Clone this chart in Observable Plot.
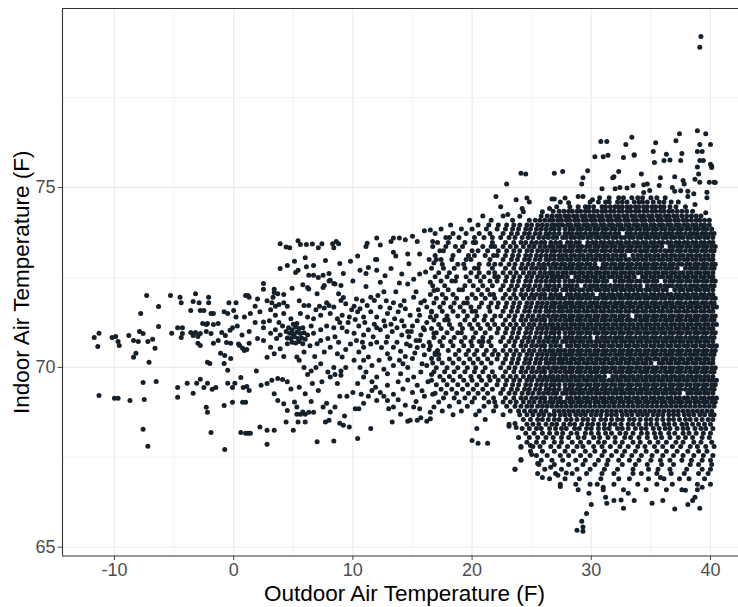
<!DOCTYPE html>
<html>
<head>
<meta charset="utf-8">
<script src="https://cdn.jsdelivr.net/npm/d3@7"></script>
<script src="https://cdn.jsdelivr.net/npm/@observablehq/plot@0.6"></script>
<style>
  body { margin: 0; background: white; }
</style>
</head>
<body>
<div id="chart"></div>
<script>
// ticks / grid
const xMajor = [-10, 0, 10, 20, 30, 40];
const xMinor = [-5, 5, 15, 25, 35];
const yMajor = [65, 70, 75];
const yMinor = [67.5, 72.5, 77.5];
const xDomain = [-14.36, 42.35];
const yDomain = [64.755, 79.98];

/* lecturas frias: [exterior, interior] */
const coldReadings = [
  [-11.7,70.83],[-11.3,70.95],[-11.4,70.58],[-11.3,69.22],
  [-10.2,70.83],[-9.9,70.86],[-9.7,70.72],[-9.6,70.61],[-10.0,69.14],[-9.7,69.14],
  [-8.8,70.89],[-8.4,70.75],[-8.2,70.39],[-8.4,70.28],[-7.9,71.0],[-7.6,70.94],[-8.0,70.72],[-7.2,70.72],[-6.8,70.78],[-6.6,70.53],[-7.1,70.14],[-7.8,71.5],
  [-8.7,69.08],[-7.6,69.58],[-7.5,69.11],[-6.5,69.61],[-7.6,68.28],[-7.2,67.81],[-6.3,71.69],[-6.3,71.14],
  [-7.3,72.0],[-5.3,72.0],[-4.5,71.95],[-3.2,72.05],[-2.1,71.95],
  [-4.4,71.8],[-3.4,71.83],[-2.9,71.8],[-2.1,71.8],[-0.4,71.8],[-3.6,71.58],[-2.8,71.58],[-2.5,71.58],[-1.9,71.5],[-1.7,71.5],[-0.8,71.55],[-0.5,71.5],
  [-5.2,70.95],[-4.7,71.1],[-4.3,71.1],[-4.4,70.83],[-4.3,70.94],[-3.6,70.97],[-3.2,70.97],[-3.4,70.89],[-3.0,70.86],[-2.8,70.94],[-2.3,71.0],[-2.6,71.22],[-2.3,71.19],[-2.2,71.22],[-3.0,70.67],[-2.8,70.61],[-1.7,71.19],[-1.3,71.22],[-1.9,70.94],[-1.3,70.75],[-1.7,70.67],[-1.1,70.39],[-0.75,70.33],[-1.0,70.97],[-0.7,70.89],[-0.3,71.03],[-0.1,71.1],[-0.6,70.69],[-0.25,70.67],[-2.2,70.14],[-2.0,70.11],[-0.8,70.11],[-0.5,69.92],[-0.25,70.25],
  [-3.9,69.56],[-3.4,69.28],[-4.7,69.44],[-4.7,69.17],[-3.1,69.56],[-2.8,69.67],[-2.5,69.44],[-2.2,69.56],[-1.8,69.39],[-1.5,69.44],[-2.3,68.89],[-2.2,68.75],[-1.9,68.19],[-0.8,68.94],[-0.75,67.72],[-0.5,69.56],[-0.1,69.44],[-0.1,69.03]
];

/* lecturas templadas (0 a 17 F) */
const mildReadings = [
  [3.9,73.44],[4.4,73.35],[4.7,73.33],[5.4,73.52],[5.6,73.42],[6.1,73.42],[6.6,73.43],[7.1,73.33],[7.4,73.44],[8.3,73.44],[8.6,73.5],[8.4,73.33],[8.8,73.44],[11.1,73.36],[11.2,73.45],[12.0,73.6],[12.3,73.4],[13.2,73.5],[13.4,73.6],[13.9,73.6],[14.4,73.55],[15.0,73.65],[15.4,73.5],[16.0,73.8],[16.5,73.82],[16.7,73.5],
  [13.4,73.2],[13.6,73.1],[14.6,73.15],[15.6,73.15],[12.0,73.0],[7.7,72.97],[16.4,73.0],[16.8,72.9],
  [3.9,72.75],[4.5,72.83],[5.2,72.64],[5.4,72.7],[6.1,72.8],[6.7,72.83],[6.3,72.56],[6.7,72.56],[7.1,72.5],[7.5,72.56],[8.0,72.61],[8.1,72.42],[8.4,72.33],[8.9,72.89],[9.2,72.61],[9.0,72.28],[9.2,71.94],[7.5,72.22],[6.2,72.22],[11.1,72.61],[11.1,72.25],[11.3,72.78],[12.0,72.7],[11.9,73.0],[14.1,72.6],[14.7,72.88],[15.6,72.6],[8.0,72.4],
  [1.2,72.0],[2.0,71.9],[2.5,72.33],[2.5,72.17],[3.4,72.17],[3.4,72.08],[3.7,72.05],[4.2,72.03],[6.3,72.18],[7.6,72.28],[8.5,72.32],[12.3,72.37],[12.6,72.1],[13.6,72.1],[14.6,72.32],[15.3,72.1],[16.5,72.37],[16.8,72.14],
  [0.2,71.8],[1.0,72.0],[1.3,71.95],[2.8,71.85],[3.2,71.8],[3.5,71.7],[3.8,71.75],[4.2,71.8],[4.5,71.7],[5.5,71.85],[5.9,71.72],[6.3,71.72],[7.2,71.7],[7.6,71.65],[8.0,71.72],[8.4,71.68],[9.0,71.86],[9.4,71.77],[10.1,71.7],[10.6,71.63],[11.2,71.72],[11.8,71.86],[12.3,71.68],[12.9,71.5],[13.4,71.8],[14.0,71.72],[14.4,71.63],[15.1,71.95],[15.7,71.8],[16.2,71.68],[16.6,71.54],
  [0.0,71.58],[0.2,71.4],[0.9,71.4],[1.4,71.5],[2.5,71.26],[3.1,71.6],[3.5,71.45],[4.2,71.5],[4.8,71.35],[5.6,71.5],[6.2,71.4],[6.7,71.35],[7.3,71.45],[8.1,71.5],[8.7,71.35],[9.1,71.45],[9.7,71.4],[10.2,71.33],[10.9,71.4],[11.5,71.55],[12.0,71.4],[12.6,71.3],[13.2,71.2],[13.7,71.1],[14.1,71.3],[14.6,71.0],[15.4,71.3],[15.9,71.1],[16.5,71.4],
  [0.3,71.15],[0.7,70.9],[1.3,71.0],[2.5,71.1],[3.1,70.95],[3.5,71.05],[3.9,70.9],
  [4.6,71.1],[4.9,71.05],[5.2,71.12],[5.5,71.08],[5.8,71.1],[4.7,70.95],[5.0,70.92],[5.3,70.98],[5.6,70.94],[5.9,70.96],[6.2,70.9],[4.5,70.82],[4.8,70.8],[5.1,70.85],[5.4,70.8],[5.7,70.82],[6.0,70.78],[4.9,70.7],[5.2,70.68],[5.5,70.72],[5.8,70.66],[5.3,71.22],[5.0,71.2],[4.4,71.0],
  [6.7,70.95],[7.3,71.05],[7.8,71.15],[8.5,70.85],[9.1,71.1],[9.5,71.0],[10.1,70.95],[10.5,71.15],[10.9,70.9],[11.3,71.05],[11.7,70.85],[12.0,71.1],[12.9,70.85],[13.3,71.0],[13.7,70.7],[14.1,70.9],[14.5,70.65],[14.9,71.0],[15.3,70.75],[15.7,70.9],[16.0,71.05],[16.4,70.7],[16.8,70.95],
  [0.4,70.65],[0.9,70.47],[0.5,70.61],[0.75,70.53],[1.1,70.5],[1.3,70.67],[2.5,70.75],[3.1,70.56],[3.4,70.38],[2.8,70.28],[3.9,70.52],[4.5,70.66],[5.3,70.29],[5.9,70.43],[7.0,70.66],[7.6,70.43],[8.1,70.56],[8.7,70.38],[9.1,70.29],[10.5,70.43],[10.9,70.56],[11.3,70.29],[12.0,70.7],[12.9,70.38],[13.4,70.56],[14.0,70.45],[14.4,70.3],[14.8,70.6],[15.2,70.4],[15.6,70.75],[16.0,70.35],[16.4,70.5],
  [5.5,70.2],[5.9,70.0],[6.5,69.9],[6.9,70.0],[7.3,70.1],[7.9,69.87],[8.4,70.0],[8.5,69.8],[9.0,69.9],[10.1,70.2],[10.6,70.0],[11.1,69.87],[12.0,69.73],[12.9,69.82],[14.0,69.82],[14.6,70.0],[15.1,69.73],[15.7,69.87],[16.2,70.05],[16.6,69.8],
  [0.6,69.72],[0.8,69.44],[1.1,69.47],[1.3,69.36],[0.1,69.56],[2.8,69.55],[3.2,69.64],[3.7,69.69],[4.1,69.66],[4.5,69.6],[3.4,69.27],[5.5,69.45],[6.0,69.27],[6.6,69.55],[7.1,69.36],[8.1,69.73],[8.7,69.55],[9.0,69.78],[10.4,69.55],[10.9,69.73],[11.6,69.6],[11.9,69.45],[12.3,69.3],[12.9,69.5],[13.4,69.25],[13.8,69.6],[14.2,69.4],[14.6,69.65],[15.0,69.3],[15.4,69.5],[15.8,69.35],[16.3,69.6],[16.7,69.25],
  [0.75,69.03],[1.0,69.03],[3.7,69.08],[4.2,68.99],[4.5,68.8],[5.1,69.04],[5.3,68.9],[5.8,68.76],[5.3,68.7],[5.6,68.7],[6.0,68.7],[6.3,68.75],[6.7,68.75],[7.8,69.0],[8.1,68.76],[8.5,68.9],[10.2,68.85],[10.5,68.85],[10.9,69.0],[11.6,69.36],[12.0,69.08],[12.9,69.08],[13.4,68.9],[14.0,68.7],[14.6,68.5],[15.1,68.9],[15.7,68.6],[16.2,68.5],[16.8,68.9],
  [0.6,68.19],[1.0,68.17],[1.2,68.17],[1.4,68.17],[2.2,68.34],[2.8,68.25],[3.4,68.25],[4.4,68.48],[5.0,68.25],[5.4,68.48],[6.0,68.48],[2.8,67.86],[7.0,67.93],[8.4,67.95],[7.7,68.48],[8.0,68.53],[9.2,68.39],[9.7,68.34],[10.4,68.02],[11.5,68.3],[13.3,68.48],[14.8,68.53],[15.4,68.53],[16.5,68.57],
  [10.3,71.9],[10.8,71.85],[11.5,71.95],[12.1,72.0],[12.8,71.85],[13.1,71.65],[13.8,71.55],[14.3,71.85],[14.8,71.45],[15.5,71.6],[16.0,71.85],[10.4,71.55],[11.0,71.25],[11.8,71.2],[12.3,71.05],[12.7,71.15],[13.5,71.35],[14.3,71.15],[15.0,71.15],[15.6,71.45],[16.2,71.25],[10.3,70.75],[10.8,70.7],[11.5,70.65],[12.4,70.55],[12.8,70.7],[13.1,70.25],[13.9,70.2],[14.7,70.85],[15.4,70.55],[15.9,70.6],[16.6,70.25],[10.9,70.2],[11.6,70.05],[12.2,70.2],[12.6,69.95],[13.4,70.05],[14.2,70.1],[15.0,70.25],[15.8,70.1],[16.9,70.4],[10.0,69.3],[10.7,69.25],[11.3,69.2],[12.6,69.2],[13.0,68.85],[13.8,69.1],[14.4,68.95],[15.3,69.05],[15.6,68.85],[16.0,69.2],[16.5,68.75],[9.5,69.2],[9.4,70.0],[9.8,70.65],[9.6,71.25],[9.9,71.6],
  [1.8,71.7],[2.2,71.55],[3.0,71.3],[3.8,71.25],[4.1,71.15],[6.5,71.15],[6.9,71.6],[7.8,71.8],[8.4,71.1],[8.9,71.25],[7.9,70.8],[7.3,70.75],[6.4,70.6],[6.8,70.3],[4.2,70.3],[3.6,70.8],[2.0,70.8],[1.8,71.25],[8.8,70.7],[9.4,70.5],[7.4,69.6],[6.2,69.8],[4.8,69.4],[2.3,69.5],[1.9,69.9],[8.9,69.2],[7.5,68.9],[6.5,69.05],[9.3,68.65],[8.9,68.45],[3.3,71.95],[4.9,72.2],[5.8,72.3],[7.0,72.05],[8.8,72.05],[10.0,72.4],[10.6,72.7],[12.7,72.55],[13.2,72.75],[13.9,72.35],[15.1,72.45],[16.1,72.65],[9.8,72.95],[10.4,73.1],[6.0,73.05],[5.1,72.95]
];

/* filas por temperatura interior: [interior, [exteriores...]] */
const warmRows = [
  [74.72, [31.5,32.3,32.7,33.4,33.9,34.3,35.0,35.5,36.2]],
  [74.6, [29.9,30.6,31.2,31.5,32.2,32.6,33.0,33.6,34.0,34.3,34.7,35.2,35.7,36.1,36.7,37.3]],
  [74.47, [28.2,28.9,29.5,29.8,30.2,30.9,31.2,31.6,32.0,32.3,32.6,33.0,33.3,33.7,34.0,34.4,34.7,35.1,35.4,35.8,36.1,36.6,37.1,37.9]],
  [74.34, [26.8,27.3,27.7,28.1,28.4,28.8,29.1,29.5,29.8,30.2,30.5,30.9,31.2,31.6,31.9,32.3,32.6,33.0,33.3,33.7,34.0,34.4,34.7,35.1,35.4,35.8,36.1,36.5,36.8,37.2,37.6,38.0,38.5]],
  [74.21, [20.9,22.6,25.8,26.3,26.7,27.1,27.4,27.8,28.1,28.5,28.8,29.2,29.5,29.9,30.2,30.6,30.9,31.3,31.6,32.0,32.3,32.7,33.0,33.4,33.7,34.1,34.4,34.8,35.1,35.5,35.8,36.2,36.5,36.9,37.2,37.6,38.0,38.4,38.8,39.2]],
  [74.09, [19.8,21.6,23.4,24.8,25.3,25.7,26.1,26.5,26.8,27.2,27.5,27.9,28.2,28.6,28.9,29.3,29.6,30.0,30.3,30.7,31.0,31.4,31.7,32.1,32.4,32.8,33.1,33.5,33.8,34.2,34.5,34.9,35.2,35.6,35.9,36.3,36.6,37.0,37.3,37.7,38.0,38.4,38.8,39.1,39.5,39.9]],
  [73.96, [18.2,20.5,21.4,22.2,22.9,23.5,24.0,24.6,25.0,25.5,25.9,26.3,26.7,27.0,27.3,27.6,28.0,28.3,28.7,29.0,29.4,29.7,30.1,30.4,30.8,31.1,31.5,31.8,32.2,32.5,32.9,33.2,33.6,33.9,34.3,34.6,35.0,35.3,35.7,36.0,36.4,36.7,37.1,37.4,37.8,38.1,38.5,38.8,39.2,39.5,39.9]],
  [73.85, [17.4,19.1,20.0,21.2,22.1,22.8,23.4,23.9,24.5,24.9,25.4,25.8,26.2,26.6,26.9,27.3,27.8,28.2,28.5,28.9,29.2,29.6,29.9,30.3,30.6,31.0,31.3,31.7,32.0,32.4,32.7,33.1,33.4,33.8,34.1,34.5,34.8,35.2,35.5,35.9,36.2,36.6,36.9,37.3,37.6,38.0,38.3,38.7,39.0,39.4,39.7,40.1]],
  [73.72, [16.9,18.4,19.5,20.6,21.5,22.6,23.3,23.8,24.4,24.8,25.3,25.7,26.2,26.5,26.9,27.3,27.8,28.1,28.4,28.8,29.1,29.5,29.9,30.2,30.5,30.9,31.2,31.6,32.0,32.3,33.0,33.3,33.7,34.1,34.4,34.7,35.1,35.4,35.8,36.2,36.5,36.8,37.2,37.5,37.9,38.3,38.6,38.9,39.3,39.6,40.0,40.3]],
  [73.61, [17.8,18.1,18.9,20.2,21.0,21.7,22.4,23.1,23.6,24.2,24.7,25.1,25.6,26.0,26.4,26.8,27.1,27.6,27.9,28.3,28.6,29.0,29.3,29.7,30.0,30.4,30.7,31.1,31.4,31.8,32.1,32.5,32.8,33.2,33.5,33.9,34.2,34.6,34.9,35.3,35.6,36.0,36.3,36.7,37.0,37.4,37.7,38.1,38.4,38.8,39.1,39.5,39.8,40.2]],
  [73.47, [17.1,18.0,19.4,20.1,20.3,21.7,22.8,23.5,24.1,24.5,25.0,25.4,25.8,26.1,26.6,27.0,27.4,28.0,28.3,28.7,29.0,29.7,30.1,30.4,30.8,31.1,31.5,31.8,32.2,32.5,32.9,33.2,33.6,33.9,34.3,34.6,35.0,35.3,35.7,36.0,36.4,36.7,37.1,37.4,37.8,38.1,38.5,38.8,39.2,39.5,39.9,40.2]],
  [73.36, [16.7,17.8,18.6,19.2,20.9,21.6,21.9,22.6,23.2,23.7,24.3,24.8,25.2,25.7,26.1,26.5,26.8,27.2,27.5,27.8,28.2,28.5,28.9,29.2,29.6,29.9,30.3,30.6,31.0,31.3,31.7,32.0,32.4,32.7,33.1,33.4,33.8,34.1,34.5,34.8,35.2,35.5,35.9,36.6,36.9,37.3,37.6,38.0,38.3,38.7,39.0,39.4,39.7,40.1,40.4]],
  [73.24, [17.3,17.6,18.9,20.0,20.5,21.3,22.2,22.9,23.5,24.0,24.6,25.0,25.5,25.9,26.3,26.7,27.0,27.4,27.8,28.1,28.4,28.8,29.1,29.5,29.9,30.2,30.5,30.9,31.2,31.6,32.0,32.3,32.6,33.0,33.3,33.7,34.1,34.4,34.7,35.1,35.4,35.8,36.2,36.5,36.8,37.2,37.5,37.9,38.3,38.6,38.9,39.3,39.6,40.0,40.3]],
  [73.11, [16.9,18.4,19.7,20.2,21.1,21.8,22.1,22.8,23.4,23.9,24.5,24.9,25.4,25.8,26.2,26.6,26.9,27.3,27.6,27.9,28.3,28.6,29.0,29.3,29.7,30.0,30.4,30.7,31.1,31.4,31.8,32.1,32.5,32.8,33.5,33.9,34.2,34.6,34.9,35.3,35.6,36.0,36.3,36.7,37.0,37.4,37.7,38.1,38.4,38.8,39.1,39.5,39.8,40.2]],
  [73.0, [17.0,17.4,18.3,19.5,19.9,21.5,22.6,23.3,23.8,24.4,24.8,25.3,25.7,26.2,26.5,26.9,27.3,27.6,28.0,28.3,28.7,29.0,29.4,29.7,30.1,30.4,30.8,31.1,31.5,31.8,32.2,32.5,32.9,33.2,33.6,33.9,34.3,34.6,35.0,35.3,35.7,36.0,36.4,36.7,37.1,37.4,37.8,38.1,38.5,38.8,39.2,39.5,39.9,40.2]],
  [72.87, [17.5,18.8,19.3,20.6,21.4,21.9,22.4,23.1,23.6,24.2,24.7,25.1,25.6,26.0,26.4,26.8,27.1,27.5,27.8,28.2,28.5,28.9,29.2,29.6,29.9,30.3,31.0,31.3,31.7,32.0,32.4,32.7,33.1,33.4,33.8,34.1,34.5,34.8,35.2,35.5,35.9,36.2,36.6,36.9,37.3,37.6,38.0,38.3,38.7,39.0,39.4,39.7,40.1,40.4]],
  [72.76, [16.6,17.6,18.5,19.4,20.2,20.5,21.7,22.8,23.5,24.1,24.5,25.0,25.4,25.8,26.1,26.6,27.0,27.4,27.8,28.1,28.4,28.8,29.1,29.5,29.9,30.2,30.5,30.9,31.2,31.6,32.0,32.3,32.6,33.0,33.3,33.7,34.1,34.4,34.7,35.1,35.4,35.8,36.2,36.5,36.8,37.2,37.9,38.3,38.6,38.9,39.3,39.6,40.0,40.3]],
  [72.63, [17.2,18.1,19.9,20.6,21.4,21.9,22.6,23.2,23.7,24.3,24.8,25.2,25.7,26.1,26.5,26.8,27.2,27.6,27.9,28.3,28.6,29.0,29.3,29.7,30.0,30.4,30.7,31.1,31.4,31.8,32.1,32.5,32.8,33.2,33.5,33.9,34.2,34.6,34.9,35.3,35.6,36.0,36.3,36.7,37.0,37.4,37.7,38.1,38.4,38.8,39.1,39.5,39.8,40.2]],
  [72.52, [16.9,17.9,18.7,19.5,20.4,21.0,21.9,22.2,22.9,23.5,24.0,24.6,25.0,25.5,25.9,26.3,26.7,27.0,27.3,27.6,28.0,28.7,29.0,29.4,29.7,30.1,30.4,30.8,31.1,31.5,31.8,32.2,32.5,32.9,33.2,33.6,34.3,34.6,35.0,35.3,35.7,36.0,36.4,36.7,37.1,37.4,37.8,38.1,38.5,38.8,39.2,39.5,39.9,40.2]],
  [72.4, [17.4,18.3,18.6,19.8,20.7,21.5,22.1,22.8,23.4,23.9,24.5,24.9,25.4,25.8,26.2,26.6,26.9,27.3,27.8,28.2,28.5,28.9,29.2,29.6,29.9,30.3,30.6,31.0,31.3,32.0,32.4,32.7,33.1,33.4,33.8,34.1,34.5,34.8,35.2,35.5,36.2,36.6,36.9,37.3,37.6,38.0,38.3,38.7,39.0,39.4,39.7,40.1,40.4]],
  [72.27, [16.7,17.7,19.4,20.1,20.9,21.7,22.6,23.3,23.8,24.4,24.8,25.3,25.7,26.2,26.5,26.9,27.3,27.8,28.1,28.4,28.8,29.5,29.9,30.2,30.5,30.9,31.2,31.6,32.0,32.3,32.6,33.0,33.3,33.7,34.1,34.7,35.1,35.4,35.8,36.2,36.5,36.8,37.2,37.5,37.9,38.3,38.6,38.9,39.3,39.6,40.0,40.3]],
  [72.16, [17.1,18.0,18.9,19.2,20.5,21.3,22.4,23.1,23.6,24.2,24.7,25.1,25.6,26.0,26.4,26.8,27.1,27.6,27.9,28.3,28.6,29.0,29.3,29.7,30.0,30.4,30.7,31.1,31.4,31.8,32.1,32.5,32.8,33.2,33.5,33.9,34.2,34.6,34.9,35.3,35.6,36.0,36.3,37.0,37.4,37.7,38.1,38.4,38.8,39.1,39.5,39.8,40.2]],
  [72.03, [16.5,17.5,18.4,20.0,20.8,21.5,21.8,22.8,23.5,24.1,24.5,25.0,25.4,25.8,26.1,26.6,27.0,27.4,28.0,28.3,28.7,29.0,29.4,29.7,30.1,30.8,31.1,31.5,31.8,32.2,32.5,32.9,33.2,33.6,33.9,34.3,34.6,35.0,35.3,35.7,36.0,36.4,36.7,37.1,37.4,37.8,38.1,38.5,38.8,39.2,39.5,39.9,40.2]],
  [71.92, [17.0,17.8,18.7,19.6,20.3,21.1,21.9,22.6,23.2,23.7,24.3,24.8,25.2,25.7,26.1,26.5,26.8,27.2,27.5,27.8,28.2,28.5,28.9,29.2,29.6,29.9,30.3,30.6,31.0,31.3,31.7,32.0,32.4,32.7,33.1,33.4,33.8,34.1,34.5,34.8,35.2,35.5,35.9,36.2,36.6,36.9,37.3,37.6,38.0,38.3,38.7,39.0,39.4,39.7,40.1,40.4]],
  [71.79, [16.8,17.6,18.5,19.3,19.6,20.8,21.6,22.2,22.9,23.5,24.0,24.6,25.0,25.5,25.9,26.3,26.7,27.0,27.4,27.8,28.1,28.4,28.8,29.1,29.5,29.9,30.2,30.5,30.9,31.2,31.6,32.0,32.3,32.6,33.0,33.3,33.7,34.1,34.4,34.7,35.1,35.4,35.8,36.2,36.5,36.8,37.2,37.5,37.9,38.3,38.6,38.9,39.3,39.6,40.0,40.3]],
  [71.68, [17.3,18.2,19.0,19.9,20.6,21.4,22.1,22.8,23.4,23.9,24.5,24.9,25.4,25.8,26.2,26.6,26.9,27.3,27.6,27.9,28.3,28.6,29.0,29.3,29.7,30.0,30.4,30.7,31.1,31.4,31.8,32.1,32.5,32.8,33.2,33.5,33.9,34.2,34.6,34.9,35.3,35.6,36.0,36.3,36.7,37.0,37.4,37.7,38.1,38.4,38.8,39.1,39.5,39.8,40.2,40.5]],
  [71.56, [16.6,17.5,18.4,19.3,20.0,20.3,21.5,22.6,23.3,23.8,24.4,24.8,25.3,25.7,26.2,26.5,26.9,27.3,27.6,28.0,28.3,28.7,29.0,29.4,29.7,30.1,30.4,30.8,31.1,31.5,31.8,32.2,32.5,32.9,33.2,33.6,33.9,34.3,34.6,35.0,35.3,35.7,36.0,36.4,36.7,37.1,37.4,37.8,38.1,38.5,38.8,39.2,39.5,39.9,40.2]],
  [71.43, [17.0,17.9,18.8,19.6,20.4,21.1,21.9,22.4,23.1,23.6,24.2,24.7,25.1,25.6,26.0,26.4,26.8,27.1,27.5,27.8,28.2,28.5,28.9,29.2,29.6,29.9,30.3,30.6,31.0,31.3,31.7,32.0,32.4,32.7,33.1,33.8,34.1,34.5,34.8,35.2,35.5,35.9,36.2,36.6,36.9,37.3,37.6,38.0,38.3,38.7,39.0,39.4,39.7,40.1,40.4]],
  [71.32, [16.8,17.7,18.0,19.4,20.2,21.0,21.7,22.8,23.5,24.1,24.5,25.0,25.4,25.8,26.1,26.6,27.0,27.4,27.8,28.1,28.4,28.8,29.1,29.5,29.9,30.2,30.5,30.9,31.2,31.6,32.0,32.3,32.6,33.0,33.3,33.7,34.1,34.4,34.7,35.1,35.4,35.8,36.2,36.5,36.8,37.2,37.5,37.9,38.3,38.6,38.9,39.3,39.6,40.0,40.3]],
  [71.19, [17.2,18.1,19.0,19.8,20.5,21.3,21.9,22.6,23.2,23.7,24.3,24.8,25.2,25.7,26.1,26.5,26.8,27.2,27.6,27.9,28.3,28.6,29.0,29.3,29.7,30.0,30.4,30.7,31.1,31.4,31.8,32.1,32.5,32.8,33.2,33.5,33.9,34.2,34.6,34.9,35.3,35.6,36.0,36.3,36.7,37.0,37.4,37.7,38.1,38.4,38.8,39.1,39.5,39.8,40.2,40.5]],
  [71.08, [16.6,17.4,18.3,19.2,20.0,20.7,21.5,22.2,22.9,23.5,24.0,24.6,25.0,25.5,25.9,26.3,26.7,27.0,27.3,27.6,28.0,28.3,28.7,29.0,29.4,29.7,30.1,30.4,30.8,31.1,31.5,31.8,32.2,32.5,32.9,33.2,33.6,33.9,34.3,34.6,35.0,35.3,35.7,36.0,36.4,36.7,37.1,37.4,37.8,38.1,38.5,38.8,39.2,39.5,39.9,40.2]],
  [70.96, [17.0,17.9,18.8,19.1,20.3,21.1,22.1,22.8,23.4,23.9,24.5,24.9,25.4,25.8,26.2,26.6,26.9,27.3,27.8,28.2,28.5,28.9,29.2,29.6,29.9,30.3,30.6,31.0,31.3,31.7,32.0,32.4,32.7,33.1,33.4,33.8,34.1,34.5,34.8,35.2,35.5,35.9,36.2,36.6,36.9,37.3,37.6,38.0,38.3,38.7,39.0,39.4,39.7,40.1,40.4]],
  [70.83, [16.8,17.6,18.5,19.4,20.1,20.9,21.6,22.6,23.3,23.8,24.4,24.8,25.3,25.7,26.2,26.5,26.9,27.3,27.8,28.1,28.4,28.8,29.1,29.5,29.9,30.5,30.9,31.2,31.6,32.0,32.3,32.6,33.0,33.3,33.7,34.1,34.4,34.7,35.1,35.4,35.8,36.2,36.5,36.8,37.2,37.5,37.9,38.3,38.6,38.9,39.3,39.6,40.0,40.3]],
  [70.72, [17.3,18.2,19.1,19.9,20.6,20.9,21.4,22.4,23.1,23.6,24.2,24.7,25.1,25.6,26.0,26.4,26.8,27.1,27.6,27.9,28.3,28.6,29.0,29.3,29.7,30.0,30.4,30.7,31.1,31.4,31.8,32.1,32.5,32.8,33.2,33.5,33.9,34.2,34.6,34.9,35.3,35.6,36.0,36.3,36.7,37.0,37.4,37.7,38.1,38.4,38.8,39.1,39.5,39.8,40.2]],
  [70.6, [16.5,17.5,18.4,19.3,20.0,20.8,21.6,22.8,23.5,24.1,24.5,25.0,25.4,25.8,26.1,26.6,27.0,27.4,28.0,28.3,28.7,29.0,29.4,29.7,30.1,30.4,30.8,31.1,31.5,31.8,32.2,32.5,32.9,33.2,33.6,33.9,34.3,34.6,35.0,35.3,35.7,36.0,36.4,36.7,37.1,37.4,37.8,38.1,38.5,38.8,39.2,39.5,39.9,40.2,40.5]],
  [70.47, [17.1,18.0,18.9,19.7,20.4,21.2,21.9,22.6,23.2,23.7,24.3,24.8,25.2,25.7,26.1,26.5,26.8,27.2,27.5,27.8,28.2,28.5,28.9,29.2,29.6,29.9,30.3,30.6,31.0,31.3,31.7,32.0,32.4,32.7,33.1,33.4,33.8,34.1,34.5,34.8,35.2,35.5,35.9,36.2,36.6,36.9,37.3,37.6,38.0,38.3,38.7,39.0,39.4,39.7,40.1,40.4]],
  [70.36, [16.9,17.2,18.6,19.5,20.2,21.0,21.7,22.2,22.9,23.5,24.0,24.6,25.0,25.5,25.9,26.3,26.7,27.0,27.4,27.8,28.1,28.4,28.8,29.1,29.5,29.9,30.2,30.5,30.9,31.2,31.6,32.0,32.3,32.6,33.0,33.3,33.7,34.1,34.4,34.7,35.1,35.4,35.8,36.2,36.5,36.8,37.2,37.5,37.9,38.3,38.6,38.9,39.3,39.6,40.0,40.3]],
  [70.23, [17.2,18.1,18.9,19.8,20.5,21.3,22.1,22.8,23.4,23.9,24.5,24.9,25.4,25.8,26.2,26.6,26.9,27.3,27.6,27.9,28.3,28.6,29.0,29.3,29.7,30.0,30.4,30.7,31.1,31.4,31.8,32.1,32.5,32.8,33.2,33.5,33.9,34.2,34.6,34.9,35.3,35.6,36.0,36.3,36.7,37.0,37.4,37.7,38.1,38.4,38.8,39.1,39.5,39.8,40.2]],
  [70.12, [16.7,17.5,18.4,19.3,20.1,20.8,21.6,22.6,23.3,23.8,24.4,24.8,25.3,25.7,26.2,26.5,26.9,27.3,27.6,28.0,28.3,28.7,29.0,29.4,29.7,30.1,30.4,30.8,31.1,31.5,31.8,32.2,32.5,32.9,33.2,33.6,33.9,34.3,34.6,35.0,35.7,36.0,36.4,36.7,37.1,37.4,37.8,38.1,38.5,38.8,39.2,39.5,39.9,40.2]],
  [69.99, [17.0,17.9,18.8,19.6,20.3,21.1,22.4,23.1,23.6,24.2,24.7,25.1,25.6,26.0,26.4,26.8,27.1,27.5,27.8,28.2,28.5,28.9,29.2,29.6,29.9,30.3,30.6,31.0,31.3,31.7,32.0,32.4,32.7,33.1,33.4,33.8,34.1,34.5,34.8,35.2,35.5,35.9,36.2,36.6,36.9,37.3,37.6,38.0,38.3,38.7,39.0,39.4,39.7,40.1,40.4]],
  [69.88, [16.8,17.7,18.5,19.4,20.2,20.9,21.7,22.8,23.5,24.1,24.5,25.0,25.4,25.8,26.1,26.6,27.0,27.4,27.8,28.1,28.4,28.8,29.1,29.5,29.9,30.2,30.5,30.9,31.2,31.6,32.0,32.3,32.6,33.0,33.3,33.7,34.1,34.4,34.7,35.1,35.4,35.8,36.2,36.5,36.8,37.2,37.5,37.9,38.3,38.6,38.9,39.3,39.6,40.0,40.3]],
  [69.75, [17.3,18.1,19.0,19.9,20.6,21.4,21.9,22.6,23.2,23.7,24.3,24.8,25.2,25.7,26.1,26.5,26.8,27.2,27.6,27.9,28.3,28.6,29.0,29.3,29.7,30.0,30.4,30.7,31.1,31.8,32.1,32.5,32.8,33.2,33.5,33.9,34.2,34.6,34.9,35.3,35.6,36.0,36.3,36.7,37.0,37.4,37.7,38.1,38.4,38.8,39.1,39.5,39.8,40.2]],
  [69.64, [16.6,17.6,18.4,19.3,20.0,20.8,21.5,22.2,22.9,23.5,24.0,24.6,25.0,25.5,25.9,26.3,26.7,27.0,27.3,27.6,28.0,28.3,28.7,29.0,29.4,29.7,30.1,30.4,30.8,31.1,31.5,31.8,32.2,32.5,32.9,33.2,33.6,33.9,34.3,34.6,35.0,35.3,35.7,36.0,36.4,36.7,37.1,37.4,37.8,38.1,38.5,38.8,39.2,39.5,39.9,40.2,40.5]],
  [69.52, [17.0,17.9,18.8,19.6,20.4,21.2,22.1,22.8,23.4,23.9,24.5,24.9,25.4,25.8,26.2,26.6,26.9,27.3,27.8,28.2,28.5,28.9,29.2,29.6,29.9,30.3,30.6,31.0,31.3,31.7,32.0,32.4,32.7,33.1,33.4,33.8,34.1,34.5,34.8,35.2,35.5,35.9,36.2,36.6,36.9,37.3,37.6,38.0,38.3,38.7,39.0,39.4,39.7,40.1,40.4]],
  [69.39, [17.4,18.3,19.2,20.1,20.9,21.7,22.6,23.3,23.8,24.4,24.8,25.3,25.7,26.2,26.5,26.9,27.3,27.8,28.1,28.4,28.8,29.1,29.5,29.9,30.2,30.5,30.9,31.2,31.6,32.0,32.3,32.6,33.0,33.3,33.7,34.1,34.4,34.7,35.1,35.4,35.8,36.2,36.5,36.8,37.2,37.5,37.9,38.3,38.6,38.9,39.3,39.6,40.0,40.3]],
  [69.28, [16.9,17.8,18.7,19.7,20.5,21.3,22.4,23.1,23.6,24.2,24.7,25.1,25.6,26.0,26.4,26.8,27.1,27.6,27.9,28.3,28.6,29.0,29.3,29.7,30.0,30.4,30.7,31.1,31.4,31.8,32.1,32.5,32.8,33.2,33.5,33.9,34.2,34.6,34.9,35.3,35.6,36.0,36.3,36.7,37.0,37.4,38.1,38.4,38.8,39.1,39.5,39.8,40.2]],
  [69.15, [17.6,18.5,19.4,20.2,21.0,21.8,22.8,23.5,24.1,24.5,25.0,25.4,25.8,26.1,26.6,27.0,27.4,28.0,28.3,28.7,29.0,29.4,29.7,30.1,30.4,30.8,31.1,31.5,31.8,32.2,32.5,32.9,33.2,33.6,33.9,34.3,34.6,35.0,35.3,35.7,36.0,36.4,36.7,37.1,37.4,37.8,38.1,38.5,38.8,39.2,39.5,39.9,40.2,40.5]],
  [69.04, [17.2,18.9,20.0,21.4,21.9,22.6,23.2,23.7,24.3,24.8,25.2,25.7,26.1,26.5,26.8,27.2,27.5,27.8,28.2,28.5,28.9,29.2,29.6,29.9,30.3,30.6,31.0,31.3,31.7,32.0,32.4,32.7,33.1,33.4,33.8,34.1,34.5,34.8,35.2,35.5,35.9,36.2,36.6,36.9,37.3,37.6,38.0,38.3,38.7,39.0,39.4,39.7,40.1,40.4]],
  [68.92, [18.1,19.6,21.0,22.0,22.9,23.6,24.1,24.6,25.0,25.5,25.9,26.3,26.7,27.1,27.5,27.9,28.3,28.7,29.1,29.5,29.9,30.3,30.7,31.1,31.5,31.9,32.3,32.7,33.1,33.5,33.9,34.3,34.7,35.1,35.5,35.9,36.3,36.7,37.1,37.5,37.9,38.3,38.7,39.1,39.5,39.9,40.3]],
  [68.79, [17.5,19.1,20.6,21.8,23.2,23.9,24.4,24.9,25.3,25.8,26.2,26.9,27.3,27.7,28.1,28.5,28.9,29.3,29.7,30.1,30.5,30.9,31.3,31.7,32.1,32.5,32.9,33.3,33.7,34.1,34.5,34.9,35.3,35.7,36.1,36.5,36.9,37.3,37.7,38.1,38.5,38.9,39.3,39.7,40.1]],
  [68.68, [18.4,20.3,22.6,24.0,24.6,25.1,25.6,26.0,26.5,26.9,27.4,27.8,28.2,28.7,29.1,29.5,30.0,30.4,30.8,31.3,31.7,32.1,32.6,33.0,33.4,33.9,34.3,34.7,35.2,35.6,36.0,36.5,36.9,37.3,37.8,38.2,38.6,39.1,39.5,40.0,40.3]],
  [68.55, [21.1,24.3,24.9,25.5,25.9,26.4,26.9,27.3,27.9,28.3,28.8,29.3,29.7,30.2,30.8,31.2,31.7,32.2,32.6,33.2,33.6,34.1,34.6,35.0,35.5,36.0,36.5,36.9,37.4,37.9,38.3,38.8,39.3,39.8,40.2]],
  [68.42, [23.1,24.6,25.1,25.6,26.2,26.7,27.1,27.7,28.2,28.6,29.2,29.7,30.1,30.6,31.1,31.6,32.0,32.5,33.1,33.5,34.0,34.6,35.0,35.5,36.1,36.5,37.0,37.6,38.0,38.5,39.0,39.5,40.0]],
  [68.3, [20.4,24.2,24.8,25.4,25.8,26.5,27.0,27.5,27.9,28.6,29.0,29.6,30.0,30.6,31.1,31.5,32.2,32.6,33.1,33.7,34.2,34.6,35.2,35.7,36.2,36.6,37.2,37.7,38.1,38.7,39.2,39.6,40.2]],
  [68.17, [24.5,25.2,25.9,26.5,27.1,27.6,28.3,28.8,29.5,30.0,30.6,31.2,31.7,32.4,32.9,33.5,34.2,34.7,35.3,35.8,36.5,37.0,37.7,38.2,38.8,39.4,40.0]],
  [68.05, [23.9,24.8,25.5,26.2,26.8,27.5,28.1,28.9,29.4,30.2,30.7,31.4,32.0,32.8,33.3,34.0,34.7,35.4,35.9,36.6,37.3,37.9,38.5,39.3,39.9]],
  [67.92, [24.6,25.4,26.0,26.9,27.5,28.4,29.1,29.8,30.6,31.1,32.0,32.6,33.5,34.1,34.9,35.6,36.3,37.1,37.7,38.6,39.2,40.1]],
  [67.8, [24.1,25.1,25.7,26.6,27.3,28.0,28.8,29.3,30.2,30.9,31.6,32.4,33.1,33.9,34.5,35.3,36.0,36.8,37.5,38.3,38.9,39.6,40.3]],
  [67.67, [24.9,25.9,26.9,27.8,28.5,29.5,30.3,31.1,32.1,32.8,33.7,34.6,35.5,36.3,37.2,38.1,39.0,39.7]],
  [67.55, [25.4,26.3,27.4,28.1,29.1,29.9,30.9,31.7,32.6,33.4,34.2,35.1,36.0,36.9,37.7,38.6,39.4,40.2]],
  [67.42, [24.1,25.8,26.7,27.6,28.7,29.5,30.6,31.4,32.3,33.2,34.0,35.0,35.8,36.6,37.6,38.4,39.3,40.0]],
  [67.3, [25.6,26.9,28.1,29.3,30.3,31.3,32.6,33.7,34.7,35.9,36.9,38.3,39.0,40.1]],
  [67.17, [23.6,26.1,27.5,28.8,29.9,31.1,32.2,33.5,34.8,35.6,36.6,38.0,39.3,40.0]],
  [67.05, [25.5,27.0,28.4,29.6,30.9,31.9,33.5,34.2,35.5,36.7,37.8,39.0,39.8]],
  [66.9, [26.5,27.8,29.0,30.8,32.3,33.2,34.8,36.1,37.4,38.2,39.5]],
  [66.75, [27.4,28.7,30.5,31.9,33.9,35.5,36.8,38.9,40.0]],
  [66.6, [28.9,31.0,32.7,34.6,36.3,37.6,38.9]],
  [66.3, [31.9,33.6,36.0,38.5]]
];

/* extremos superiores */
const highTail = [
  [39.2,79.2],[39.1,78.9],
  [37.4,76.5],[38.9,76.58],[39.6,76.5],[37.1,76.3],[35.4,76.25],[33.4,76.4],[32.9,76.2],[39.1,76.2],[40.0,76.2],[30.8,76.28],[31.3,76.28],
  [37.6,75.95],[36.3,75.93],[36.1,75.75],[36.6,75.77],[35.2,76.0],[35.3,75.7],[38.9,76.0],[39.3,76.0],[39.1,75.75],[39.4,75.75],[40.0,75.65],[40.1,75.6],[38.9,75.57],[39.0,75.38],
  [30.3,75.86],[31.0,75.86],[31.4,75.9],[32.7,75.84],[33.6,75.91],[29.7,75.47],[29.3,75.27],[29.2,75.1],[31.8,75.27],[32.3,75.45],[34.2,75.38],[35.8,75.27],[37.0,75.3],[37.7,75.2],[38.7,75.23],[39.1,75.15],[39.9,75.15],[40.3,75.15],
  [30.9,74.97],[28.9,74.75],[29.3,74.75],[26.9,75.4],[27.6,75.45],[24.1,75.4],[24.5,75.38],[22.9,75.1],[22.0,74.75],[23.7,74.66],[24.6,74.71],[24.8,74.6],[22.4,74.47],[23.0,74.25],[24.2,74.42],[24.3,74.33],[24.0,74.2],
  [26.7,74.68],[26.9,74.68],[27.4,74.6],[27.8,74.71],[25.9,74.33],[26.5,74.42],[27.1,74.47],[28.1,74.58],[30.1,74.66],[30.7,74.72],
  [32.0,74.97],[32.4,75.0],[33.0,74.99],[33.5,75.06],[34.4,75.08],[34.7,75.1],[34.9,74.92],[35.7,75.06],[36.8,75.0],[37.0,74.9],[37.5,74.91],[38.1,74.9],[38.6,74.83],[38.7,74.53],[39.7,74.87],[39.6,74.3],
  [37.8,75.1],[38.1,74.75],[39.7,74.72],[34.4,74.86],[31.9,75.3],[33.6,75.9],[37.5,75.75],[40.1,75.56],[40.4,75.14]
];

/* extremos inferiores */
const lowTail = [
  [28.8,65.47],[29.2,65.72],[29.3,65.44],[29.3,65.56],[29.6,65.94],[29.8,66.5],[29.9,66.75],[30.0,66.19],[31.0,66.67],[31.2,66.39],[31.3,66.22],[32.5,66.31],[32.7,66.08],[33.1,66.5],[35.1,66.22],[35.8,66.94],[37.0,66.06],[37.9,66.58],[38.1,66.19],[38.7,66.39],[39.1,66.08],[39.3,66.67],
  [20.0,67.97],[20.5,67.89],[21.3,67.89],[23.6,67.17],[23.1,68.36],[23.6,68.44],[23.7,68.33],[24.1,67.78],[24.1,67.44],[24.9,67.83],[25.0,67.58],[25.5,67.33],[25.9,66.94],[26.6,67.22],[27.2,67.0],[27.4,66.69],[27.9,67.06]
];

const pairs = [...coldReadings, ...mildReadings, ...highTail, ...lowTail]
  .map(([outdoor, indoor]) => ({outdoor, indoor}));
const rowPoints = warmRows.flatMap(([indoor, xs]) => xs.map(outdoor => ({outdoor, indoor})));
const data = pairs.concat(rowPoints);

const gridColor = '#ebebeb';
const borderColor = '#333333';

let chart = Plot.plot({
  width: 738,
  height: 607,
  marginLeft: 62,
  marginRight: 0,
  marginTop: 8,
  marginBottom: 51.5,
  style: {
    fontFamily: 'Arial, "Liberation Sans", sans-serif',
    fontSize: '18px',
    color: '#4d4d4d',
    background: 'white',
  },
  x: {domain: xDomain, ticks: xMajor, tickSize: 4.5, tickPadding: 3, tickFormat: d => String(d), label: null},
  y: {domain: yDomain, ticks: yMajor, tickSize: 4.5, tickPadding: 2.5, tickFormat: d => String(d), label: null},
  marks: [
    // grilla menor y mayor
    Plot.ruleX(xMinor, {stroke: gridColor, strokeWidth: 0.6}),
    Plot.ruleY(yMinor, {stroke: gridColor, strokeWidth: 0.6}),
    Plot.ruleX(xMajor, {stroke: gridColor, strokeWidth: 1.1}),
    Plot.ruleY(yMajor, {stroke: gridColor, strokeWidth: 1.1}),
    Plot.dot(data, {x: 'outdoor', y: 'indoor', r: 2.5, fill: '#15202b', stroke: null}),
    // borde del panel
    Plot.ruleY([yDomain[1]], {stroke: borderColor, strokeWidth: 1.1}),
    Plot.ruleY([yDomain[0]], {stroke: borderColor, strokeWidth: 1.1}),
    Plot.ruleX([xDomain[0]], {stroke: borderColor, strokeWidth: 1.1}),
    // titulos de ejes
    Plot.text(['Outdoor Air Temperature (F)'], {text: d => d, frameAnchor: 'bottom', lineAnchor: 'middle', textAnchor: 'middle', dy: 37.5, dx: 4, fontSize: 22.5, fill: 'black'}),
    Plot.text(['Indoor Air Temperature (F)'], {text: d => d, frameAnchor: 'left', lineAnchor: 'middle', textAnchor: 'middle', rotate: -90, dx: -41, fontSize: 22.5, fill: 'black'}),
  ],
});

d3.select('#chart').append(() => chart);
</script>
</body>
</html>
